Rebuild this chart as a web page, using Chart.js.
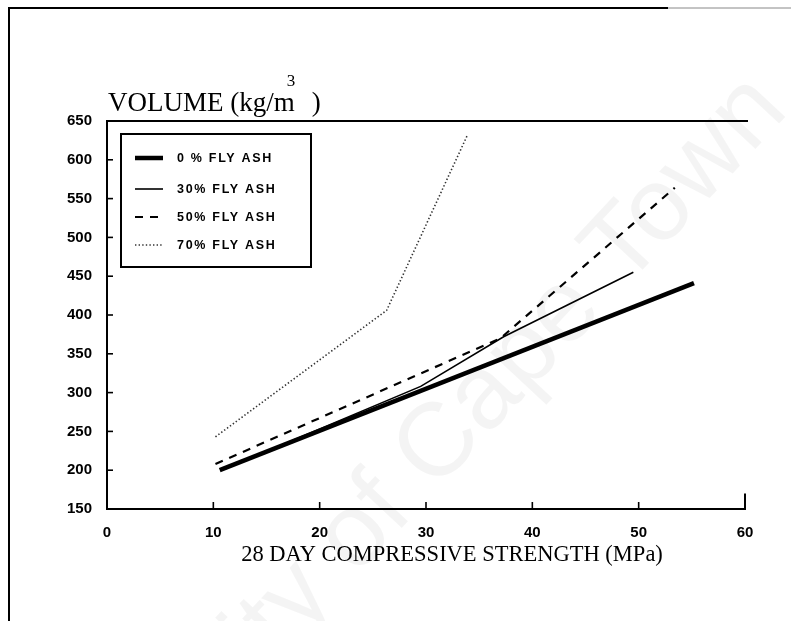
<!DOCTYPE html>
<html>
<head>
<meta charset="utf-8">
<script src="https://cdn.jsdelivr.net/npm/chart.js@4.4.0/dist/chart.umd.min.js"></script>
<style>
    html, body { margin: 0; padding: 0; background: #fff; }
    #wrap { width: 791px; height: 621px; }
</style>
</head>
<body>
<div id="wrap"><canvas id="volumeChart" width="791" height="621"></canvas></div>
<script>
// volume vs 28 day strength for each fly ash content
var seriesLabels = ['0 % FLY ASH', '30% FLY ASH', '50% FLY ASH', '70% FLY ASH'];

var strength0 = [10.6, 55.2];
var volume0 = [200, 441];

var strength30 = [10.8, 29.5, 37.3, 49.5];
var volume30 = [200, 308, 372, 455];

var strength50 = [10.2, 37.0, 53.4];
var volume50 = [208, 370, 564];

var strength70 = [10.2, 26.3, 33.9];
var volume70 = [243, 406, 632];

var xTicks = [0, 10, 20, 30, 40, 50, 60];
var yTicks = [150, 200, 250, 300, 350, 400, 450, 500, 550, 600, 650];

var tickFont = { family: 'Liberation Sans', size: 15, weight: 'bold' };

function toPoints(xs, ys) {
    var pts = [];
    for (var i = 0; i < xs.length; i++) {
        pts.push({ x: xs[i], y: ys[i] });
    }
    return pts;
}

var lineStyles = [
    { width: 4.5, dash: [], color: '#000' },
    { width: 1.6, dash: [], color: '#000' },
    { width: 2.2, dash: [8, 7], color: '#000' },
    { width: 1.6, dash: [1.4, 2.2], color: '#333' }
];

var seriesData = [
    toPoints(strength0, volume0),
    toPoints(strength30, volume30),
    toPoints(strength50, volume50),
    toPoints(strength70, volume70)
];

var datasets = seriesLabels.map(function (label, i) {
    return {
        label: label,
        data: seriesData[i],
        showLine: true,
        borderColor: lineStyles[i].color,
        borderWidth: lineStyles[i].width,
        borderDash: lineStyles[i].dash,
        pointRadius: 0,
        tension: 0,
        fill: false
    };
});

// frame, inner ticks, legend box and titles
var decorations = {
    id: 'decorations',
    beforeDraw: function (chart) {
        var ctx = chart.ctx;
        ctx.save();
        ctx.fillStyle = '#fff';
        ctx.fillRect(0, 0, chart.width, chart.height);

        // faint diagonal stamp across the page
        ctx.translate(790, 112);
        ctx.rotate(-0.82);
        ctx.font = '104px "Liberation Sans"';
        ctx.fillStyle = 'rgba(0,0,0,0.045)';
        ctx.textAlign = 'right';
        ctx.textBaseline = 'alphabetic';
        ctx.fillText('University of Cape Town', 0, 0);
        ctx.restore();
    },
    afterDraw: function (chart) {
        var ctx = chart.ctx;
        var area = chart.chartArea;
        var xs = chart.scales.x;
        var ys = chart.scales.y;
        ctx.save();

        // page border
        ctx.strokeStyle = '#000';
        ctx.lineWidth = 2;
        ctx.beginPath();
        ctx.moveTo(9, 621);
        ctx.lineTo(9, 8);
        ctx.lineTo(668, 8);
        ctx.stroke();
        ctx.strokeStyle = '#888';
        ctx.lineWidth = 1;
        ctx.beginPath();
        ctx.moveTo(668, 8);
        ctx.lineTo(791, 8);
        ctx.stroke();

        // top and right edges of the plot box
        ctx.strokeStyle = '#000';
        ctx.lineWidth = 2;
        ctx.beginPath();
        ctx.moveTo(area.left, area.top);
        ctx.lineTo(area.right + 3, area.top);
        ctx.stroke();
        ctx.beginPath();
        ctx.moveTo(area.right, ys.getPixelForValue(170));
        ctx.lineTo(area.right, area.bottom);
        ctx.stroke();

        // tick marks pointing inwards
        ctx.lineWidth = 1.6;
        xTicks.forEach(function (v) {
            if (v === 0 || v === 60) return;
            var px = xs.getPixelForValue(v);
            ctx.beginPath();
            ctx.moveTo(px, area.bottom);
            ctx.lineTo(px, area.bottom - 7);
            ctx.stroke();
        });
        yTicks.forEach(function (v) {
            if (v === 150 || v === 650) return;
            var py = ys.getPixelForValue(v);
            ctx.beginPath();
            ctx.moveTo(area.left, py);
            ctx.lineTo(area.left + 6, py);
            ctx.stroke();
        });

        // legend
        var boxL = 121, boxT = 134, boxR = 311, boxB = 267;
        ctx.lineWidth = 2;
        ctx.strokeRect(boxL, boxT, boxR - boxL, boxB - boxT);
        var rows = [158, 189, 217, 245];
        ctx.font = 'bold 12.5px "Liberation Sans"';
        ctx.letterSpacing = '1.7px';
        ctx.textBaseline = 'middle';
        ctx.textAlign = 'left';
        chart.data.datasets.forEach(function (ds, i) {
            ctx.strokeStyle = ds.borderColor;
            ctx.lineWidth = ds.borderWidth;
            ctx.setLineDash(ds.borderDash);
            ctx.beginPath();
            ctx.moveTo(135, rows[i]);
            ctx.lineTo(163, rows[i]);
            ctx.stroke();
            ctx.setLineDash([]);
            ctx.fillStyle = '#000';
            ctx.fillText(ds.label, 177, rows[i] + 1);
        });
        ctx.letterSpacing = '0px';

        // axis titles
        ctx.fillStyle = '#000';
        ctx.font = '27px "Liberation Serif"';
        ctx.textBaseline = 'alphabetic';
        ctx.textAlign = 'left';
        var yTitle = 'VOLUME (kg/m';
        ctx.fillText(yTitle, 108, 111);
        var w = ctx.measureText(yTitle).width;
        ctx.font = '17px "Liberation Serif"';
        ctx.fillText('3', 108 + w - 8, 86);
        ctx.font = '27px "Liberation Serif"';
        ctx.fillText(')', 108 + w + 17, 111);

        ctx.font = '22.5px "Liberation Serif"';
        ctx.textAlign = 'center';
        ctx.fillText('28 DAY COMPRESSIVE STRENGTH (MPa)', 452, 561);
        ctx.restore();
    }
};

var ctx = document.getElementById('volumeChart').getContext('2d');
var volumeChart = new Chart(ctx, {
    type: 'scatter',
    data: { datasets: datasets },
    options: {
        responsive: false,
        animation: false,
        layout: { padding: { left: 0, top: 121, right: 46, bottom: 0 } },
        plugins: {
            legend: { display: false },
            tooltip: { enabled: false }
        },
        scales: {
            x: {
                type: 'linear',
                min: 0,
                max: 60,
                afterBuildTicks: function (scale) {
                    scale.ticks = xTicks.map(function (v) { return { value: v }; });
                },
                afterFit: function (scale) { scale.height = 112; },
                ticks: { font: tickFont, color: '#000', padding: 7, maxRotation: 0 },
                grid: { display: false },
                border: { display: true, color: '#000', width: 2 }
            },
            y: {
                type: 'linear',
                min: 150,
                max: 650,
                afterBuildTicks: function (scale) {
                    scale.ticks = yTicks.map(function (v) { return { value: v }; });
                },
                afterFit: function (scale) { scale.width = 107; },
                ticks: { font: tickFont, color: '#000', padding: 7 },
                grid: { display: false },
                border: { display: true, color: '#000', width: 2 }
            }
        }
    },
    plugins: [decorations]
});
</script>
</body>
</html>
